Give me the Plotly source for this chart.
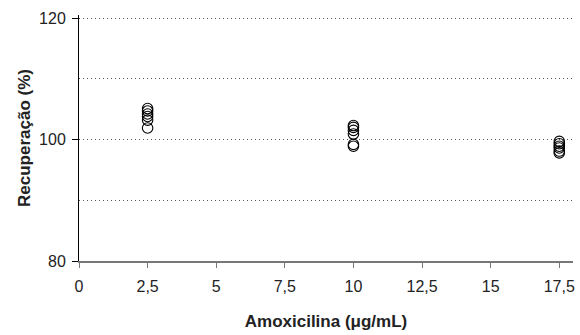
import plotly.graph_objects as go

conc = [2.5] * 6 + [10] * 6 + [17.5] * 6
recovery = [105.1, 104.7, 104.2, 103.8, 103.2, 101.9,
            102.3, 102.0, 101.5, 100.9, 99.2, 98.9,
            99.7, 99.3, 98.9, 98.6, 98.1, 97.8]
x_ticks = [0, 2.5, 5, 7.5, 10, 12.5, 15, 17.5]
x_labels = ["0", "2,5", "5", "7,5", "10", "12,5", "15", "17,5"]
y_ticks = [80, 100, 120]

fig = go.Figure()
fig.add_trace(go.Scatter(
    x=conc, y=recovery, mode="markers",
    marker=dict(symbol="circle-open", size=10.5, color="black", line=dict(width=1.1)),
))

font = "Liberation Sans, Arial, sans-serif"
grid = dict(gridcolor="#555", griddash="1px,3px", gridwidth=1)
fig.update_layout(
    width=580, height=335,
    margin=dict(l=79, r=5, t=15, b=74),
    plot_bgcolor="white", paper_bgcolor="white",
    showlegend=False,
    font=dict(family=font, size=16, color="#222"),
    xaxis=dict(
        range=[0, 18], tickvals=x_ticks, ticktext=x_labels,
        showgrid=False, zeroline=False,
        showline=True, linecolor="#777", linewidth=2,
        ticks="outside", ticklen=5, tickcolor="#777", tickwidth=1,
        ticklabelstandoff=5,
        title=dict(text="<b>Amoxicilina (μg/mL)</b>", font=dict(size=17), standoff=21),
    ),
    yaxis=dict(
        range=[80, 120.5], tickvals=y_ticks,
        showgrid=True, **grid,
        minor=dict(dtick=10, tick0=80, showgrid=True, **grid),
        zeroline=False,
        showline=True, linecolor="black", linewidth=1,
        ticks="outside", ticklen=6, tickcolor="black",
        ticklabelstandoff=3,
        title=dict(text="<b>Recuperação (%)</b>", font=dict(size=17), standoff=4),
    ),
)

fig.write_html("out.html")
